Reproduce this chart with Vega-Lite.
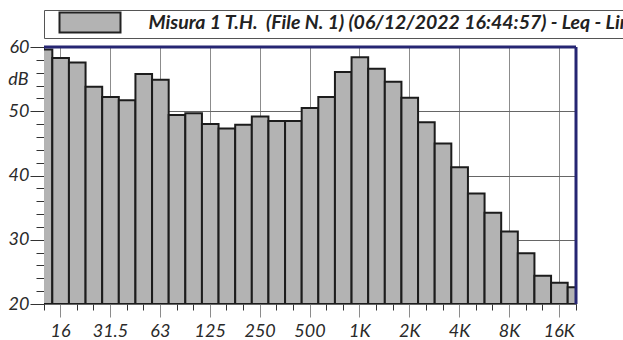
{
  "$schema": "https://vega.github.io/schema/vega-lite/v6.json",
  "autosize": {"type": "none"},
  "padding": {"left": 44, "top": 47, "right": 47, "bottom": 36},
  "width": 532,
  "height": 257,
  "background": "white",
  "config": {"view": {"stroke": "#2a2a7a", "strokeWidth": 1}, "font": "Lato"},
  "data": {"values": [
    {"band": "12.5", "leq": 59.6},
    {"band": "16", "leq": 58.3},
    {"band": "20", "leq": 57.6},
    {"band": "25", "leq": 53.8},
    {"band": "31.5", "leq": 52.2},
    {"band": "40", "leq": 51.7},
    {"band": "50", "leq": 55.8},
    {"band": "63", "leq": 54.9},
    {"band": "80", "leq": 49.4},
    {"band": "100", "leq": 49.7},
    {"band": "125", "leq": 48.0},
    {"band": "160", "leq": 47.3},
    {"band": "200", "leq": 47.9},
    {"band": "250", "leq": 49.2},
    {"band": "315", "leq": 48.5},
    {"band": "400", "leq": 48.5},
    {"band": "500", "leq": 50.5},
    {"band": "630", "leq": 52.2},
    {"band": "800", "leq": 56.1},
    {"band": "1K", "leq": 58.4},
    {"band": "1.25K", "leq": 56.6},
    {"band": "1.6K", "leq": 54.6},
    {"band": "2K", "leq": 52.1},
    {"band": "2.5K", "leq": 48.3},
    {"band": "3.15K", "leq": 45.0},
    {"band": "4K", "leq": 41.3},
    {"band": "5K", "leq": 37.2},
    {"band": "6.3K", "leq": 34.2},
    {"band": "8K", "leq": 31.3},
    {"band": "10K", "leq": 27.9},
    {"band": "12.5K", "leq": 24.4},
    {"band": "16K", "leq": 23.3},
    {"band": "20K", "leq": 22.6}
  ]},
  "resolve": {"axis": {"x": "independent", "y": "independent"}},
  "layer": [
    {
      "mark": {"type": "bar", "stroke": "#1c1c1c", "strokeWidth": 2, "clip": true},
      "encoding": {
        "x": {
          "field": "band", "type": "ordinal", "sort": null,
          "scale": {
            "type": "band",
            "domain": ["12.5","16","20","25","31.5","40","50","63","80","100","125","160","200","250","315","400","500","630","800","1K","1.25K","1.6K","2K","2.5K","3.15K","4K","5K","6.3K","8K","10K","12.5K","16K","20K"],
            "range": [-8.3125, 540.3125],
            "paddingInner": 0, "paddingOuter": 0
          },
          "axis": {"orient": "bottom", "domain": false, "grid": false, "labels": false, "tickSize": 6, "tickColor": "#333333", "tickWidth": 1, "title": null, "zindex": 0}
        },
        "y": {
          "field": "leq", "type": "quantitative",
          "scale": {"domain": [20, 60], "nice": false, "zero": false},
          "axis": {"orient": "left", "values": [20,22,24,26,28,30,32,34,36,38,40,42,44,46,48,50,52,54,56,58,60], "domain": false, "grid": false, "labels": false, "tickSize": 8, "tickColor": "#333333", "title": null, "zindex": 0}
        },
        "y2": {"datum": 20},
        "fill": {
          "datum": "Misura 1 T.H.\u00a0 (File N. 1) (06/12/2022 16:44:57) - Leq - Lin",
          "type": "nominal",
          "scale": {"range": ["#b3b3b3"]},
          "legend": {
            "orient": "none", "legendX": 0, "legendY": -37, "title": null,
            "padding": 1.5, "strokeColor": "#555555", "fillColor": "white",
            "symbolType": "M-3.05,-1H3.05V1H-3.05Z", "symbolSize": 400,
            "symbolStrokeColor": "#222222", "symbolStrokeWidth": 2, "symbolFillColor": "#b3b3b3", "symbolOpacity": 1,
            "symbolOffset": 33.5, "labelOffset": 47.5,
            "labelFont": "Lato", "labelFontStyle": "italic", "labelFontWeight": "bold", "labelFontSize": 19.5, "labelColor": "#222222", "labelLimit": 0
          }
        }
      }
    },
    {
      "data": {"values": [{}]},
      "mark": {"type": "rule", "color": "#262673", "strokeWidth": 3},
      "encoding": {
        "y": {
          "datum": 60, "type": "quantitative",
          "axis": {"orient": "left", "values": [20,30,40,50,60], "domain": false, "grid": true, "gridColor": "#666666", "gridWidth": 1,
            "tickSize": 14, "tickColor": "#333333",
            "labelFont": "Lato", "labelFontStyle": "italic", "labelFontSize": 18, "labelColor": "#2a2a2a", "labelPadding": 1,
            "title": "dB", "titleAngle": 0, "titleAlign": "right", "titleBaseline": "middle", "titleX": -16, "titleY": 32,
            "titleFont": "Lato", "titleFontStyle": "italic", "titleFontWeight": "normal", "titleFontSize": 18, "titleColor": "#2a2a2a",
            "zindex": 0}
        }
      }
    },
    {
      "data": {"values": [{}]},
      "mark": {"type": "rule", "color": "#262673", "strokeWidth": 3},
      "encoding": {
        "x": {
          "datum": "20K", "type": "ordinal",
          "axis": {"orient": "bottom", "values": ["16","31.5","63","125","250","500","1K","2K","4K","8K","16K"], "domain": false, "grid": true, "gridColor": "#8c8c8c", "gridWidth": 1,
            "tickSize": 13, "tickColor": "#8c8c8c", "labelAngle": 0, "labelOverlap": false,
            "labelFont": "Lato", "labelFontStyle": "italic", "labelFontSize": 18, "labelColor": "#2a2a2a", "labelPadding": 5,
            "title": null, "zindex": 0}
        }
      }
    }
  ]
}
